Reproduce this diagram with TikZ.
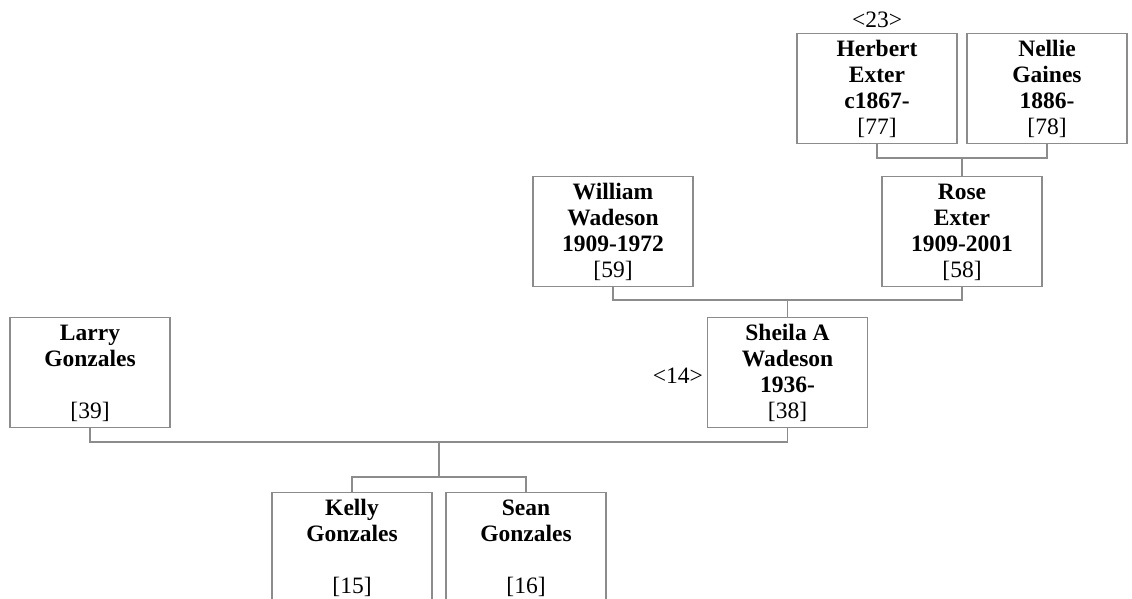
\documentclass[tikz,border=0pt]{standalone}
\usepackage{fontspec}
\setmainfont{Liberation Serif}
\definecolor{linegray}{RGB}{140,140,140}
\newcommand\personbox[4]{\parbox[t][110pt][t]{160pt}{\centering\fontsize{23.5}{26}\selectfont\rule{0pt}{23pt}\textbf{#1}\\\mbox{}\textbf{#2}\\\mbox{}\textbf{#3}\\\mbox{}#4}}
\begin{document}
\begin{tikzpicture}[x=1pt,y=-1pt,
  person/.style={draw=linegray, line width=1.3pt, inner sep=0pt, anchor=north, minimum width=160pt, minimum height=110pt},
  conn/.style={draw=linegray, line width=1.3pt},
  tag/.style={inner sep=0pt, font=\fontsize{23.5}{26}\selectfont}]
\useasboundingbox (0,0) rectangle (1132,598);
\fill[white] (0,0) rectangle (1132,598);
\clip (0,0) rectangle (1132,598);
% generation 1
\node[person] (herbert) at (877,33) {\personbox{Herbert}{Exter}{c1867-}{[77]}};
\node[person] (nellie) at (1047,33) {\personbox{Nellie}{Gaines}{1886-}{[78]}};
\node[tag, anchor=base] (n23) at (877,27) {<23>};
% generation 2
\node[person] (william) at (613,176) {\personbox{William}{Wadeson}{1909-1972}{[59]}};
\node[person] (rose) at (962,176) {\personbox{Rose}{Exter}{1909-2001}{[58]}};
% generation 3
\node[person] (larry) at (90,317) {\personbox{Larry}{Gonzales}{}{[39]}};
\node[person] (sheila) at (787.5,317) {\personbox{Sheila A}{Wadeson}{1936-}{[38]}};
\node[tag, anchor=base east] (n14) at (703,383) {<14>};
% generation 4
\node[person] (kelly) at (352,492) {\personbox{Kelly}{Gonzales}{}{[15]}};
\node[person] (sean) at (526,492) {\personbox{Sean}{Gonzales}{}{[16]}};
% connectors
\coordinate (m1) at (962,158);
\coordinate (m2) at (787.5,300);
\coordinate (m3) at (439,442);
\coordinate (m4) at (439,477);
\draw[conn] (herbert.south) |- (m1) -| (nellie.south);
\draw[conn] (m1) -- (rose.north);
\draw[conn] (william.south) |- (m2) -| (rose.south);
\draw[conn] (m2) -- (sheila.north);
\draw[conn] (larry.south) |- (m3) -| (sheila.south);
\draw[conn] (m3) -- (m4);
\draw[conn] (kelly.north) |- (m4) -| (sean.north);
\end{tikzpicture}
\end{document}
